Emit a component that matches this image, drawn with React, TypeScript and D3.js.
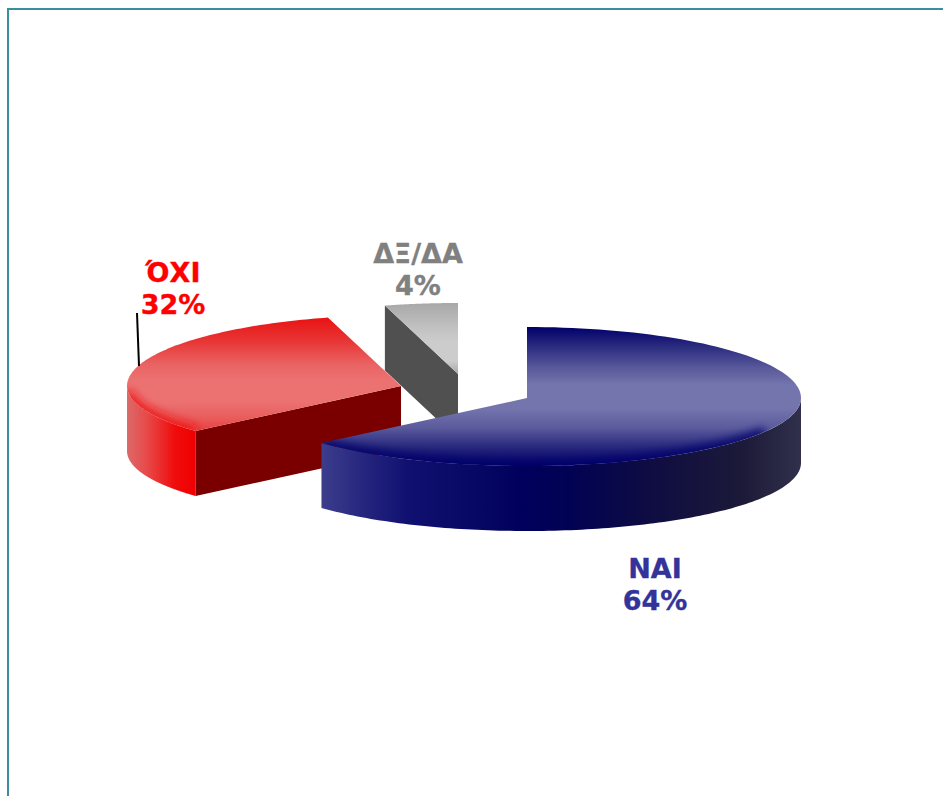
import React from "react";
import * as d3 from "d3";

const categories = ["ΝΑΙ", "ΌΧΙ", "ΔΞ/ΔΑ"];
const shares = [63.5, 32.2, 4.3];

const RX = 274;
const RY_BACK = 71;
const RY_FRONT = 68;
const DEPTH = 65;
const apexes = [
  { x: 527, y: 398 },
  { x: 401, y: 386 },
  { x: 458, y: 374 },
];
const labelPos = [
  { x: 655, y: 578 },
  { x: 173, y: 282 },
  { x: 418, y: 263 },
];
const labelColors = ["#333399", "#ff0000", "#808080"];

const topStops = [
  [
    [0, "#00006a"],
    [0.12, "#25257c"],
    [0.3, "#5a5a9c"],
    [0.42, "#7575ae"],
    [0.58, "#7575ae"],
    [0.72, "#5c5c9e"],
    [0.88, "#22227a"],
    [1, "#00006a"],
  ],
  [
    [0, "#ea0f0f"],
    [0.2, "#e83838"],
    [0.36, "#ea6464"],
    [0.48, "#ec7272"],
    [0.62, "#ec7272"],
    [0.74, "#ea5c5c"],
    [0.9, "#e82a2a"],
    [1, "#ea0f0f"],
  ],
  [
    [0, "#a8a8a8"],
    [0.2, "#c4c4c4"],
    [0.28, "#cccccc"],
    [0.42, "#cccccc"],
    [0.5, "#aaaaaa"],
    [1, "#aaaaaa"],
  ],
];

const naiSideStops = [
  [0, "#3d3d8c"],
  [0.07, "#2a2a82"],
  [0.18, "#101070"],
  [0.42, "#00005c"],
  [0.52, "#020254"],
  [0.68, "#0e0c42"],
  [0.88, "#1c1a38"],
  [1, "#30304c"],
];
const oxiSideStops = [
  [0, "#dc6a6a"],
  [0.3, "#e84848"],
  [0.7, "#f00c0c"],
  [1, "#f00000"],
];

const pieLayout = d3
  .pie<number>()
  .sort(null)
  .startAngle(0)
  .endAngle(2 * Math.PI);
const arcs = pieLayout(shares);

const scaleX = d3.scaleLinear().domain([-1, 1]).range([-RX, RX]);
const scaleY = d3.scaleLinear().domain([-1, 0, 1]).range([-RY_BACK, 0, RY_FRONT]);
const lineGen = d3.line<[number, number]>();

function rim(i: number, a: number) {
  const p = apexes[i];
  return [p.x + scaleX(Math.sin(a)), p.y + scaleY(-Math.cos(a))] as [number, number];
}
function rimPoints(i: number, a0: number, a1: number) {
  const n = 120;
  return d3.range(n + 1).map((k) => rim(i, a0 + ((a1 - a0) * k) / n));
}
function shift(pts: [number, number][], dy: number) {
  return pts.map(([x, y]) => [x, y + dy] as [number, number]);
}
function topFace(i: number) {
  const p = apexes[i];
  const pts = rimPoints(i, arcs[i].startAngle, arcs[i].endAngle);
  return lineGen([[p.x, p.y], ...pts])! + "Z";
}
function sideWall(i: number, a0: number, a1: number) {
  const pts = rimPoints(i, a0, a1);
  return lineGen([...pts, ...shift(pts, DEPTH).reverse()])! + "Z";
}
function cutFace(i: number, a: number) {
  const p = apexes[i];
  const q = rim(i, a);
  return lineGen([
    [p.x, p.y],
    q,
    [q[0], q[1] + DEPTH],
    [p.x, p.y + DEPTH],
  ])! + "Z";
}

const Stops = ({ stops }: { stops: any[][] }) => (
  <>
    {stops.map(([o, c], k) => (
      <stop key={k} offset={o} stopColor={c} />
    ))}
  </>
);

export default function App() {
  const fmt = d3.format(".0f");
  const font = "'DejaVu Sans', Verdana, sans-serif";
  const naiLeft = rim(0, arcs[0].endAngle)[0];
  const oxiLeft = apexes[1].x - RX;
  const oxiCorner = rim(1, arcs[1].startAngle)[0];
  const deg = Math.PI / 180;
  return (
    <svg
      width={943}
      height={796}
      viewBox="0 0 943 796"
      style={{ position: "absolute", left: 0, top: 0, display: "block", background: "#fff" }}
    >
      <defs>
        {apexes.map((p, i) => (
          <linearGradient
            key={i}
            id={`top${i}`}
            gradientUnits="userSpaceOnUse"
            x1={0}
            x2={0}
            y1={p.y - RY_BACK}
            y2={p.y + RY_FRONT}
          >
            <Stops stops={topStops[i]} />
          </linearGradient>
        ))}
        <linearGradient
          id="sideNai"
          gradientUnits="userSpaceOnUse"
          x1={naiLeft}
          x2={apexes[0].x + RX}
          y1={0}
          y2={0}
        >
          <Stops stops={naiSideStops} />
        </linearGradient>
        <linearGradient id="sideOxi" gradientUnits="userSpaceOnUse" x1={oxiLeft} x2={oxiCorner} y1={0} y2={0}>
          <Stops stops={oxiSideStops} />
        </linearGradient>
        <filter id="soft" x="-10%" y="-40%" width="120%" height="180%">
          <feGaussianBlur stdDeviation="5" />
        </filter>
        <clipPath id="clipNai">
          <path d={topFace(0)} />
        </clipPath>
        <clipPath id="clipOxi">
          <path d={topFace(1)} />
        </clipPath>
      </defs>

      <path d="M8 796V9H943" fill="none" stroke="#3b8da0" strokeWidth={2} />

      {/* ΔΞ/ΔΑ */}
      <path d={cutFace(2, arcs[2].startAngle)} fill="#505050" />
      <path d={topFace(2)} fill="url(#top2)" />

      {/* ΌΧΙ */}
      <path d={sideWall(1, arcs[1].startAngle, 1.5 * Math.PI)} fill="url(#sideOxi)" />
      <path d={cutFace(1, arcs[1].startAngle)} fill="#7a0000" />
      <path d={topFace(1)} fill="url(#top1)" />
      <g clipPath="url(#clipOxi)">
        <path
          d={lineGen(rimPoints(1, arcs[1].startAngle, 265 * deg))!}
          fill="none"
          stroke="#ee1414"
          strokeWidth={9}
          filter="url(#soft)"
        />
      </g>

      {/* ΝΑΙ */}
      <path d={sideWall(0, 0.5 * Math.PI, arcs[0].endAngle)} fill="url(#sideNai)" />
      <path d={topFace(0)} fill="url(#top0)" />
      <g clipPath="url(#clipNai)">
        <path
          d={lineGen(rimPoints(0, 120 * deg, arcs[0].endAngle))!}
          fill="none"
          stroke="#00006a"
          strokeWidth={9}
          filter="url(#soft)"
        />
      </g>

      <path d="M137 313L139 366" stroke="#000" strokeWidth={2} fill="none" />

      {categories.map((c, i) => (
        <text
          key={c}
          x={labelPos[i].x}
          textAnchor="middle"
          fontFamily={font}
          fontWeight={700}
          fontSize={27}
          fill={labelColors[i]}
          stroke={labelColors[i]}
          strokeWidth={0.35}
        >
          <tspan x={labelPos[i].x} y={labelPos[i].y}>
            {c}
          </tspan>
          <tspan x={labelPos[i].x} y={labelPos[i].y + 32}>
            {fmt(shares[i])}%
          </tspan>
        </text>
      ))}
    </svg>
  );
}
